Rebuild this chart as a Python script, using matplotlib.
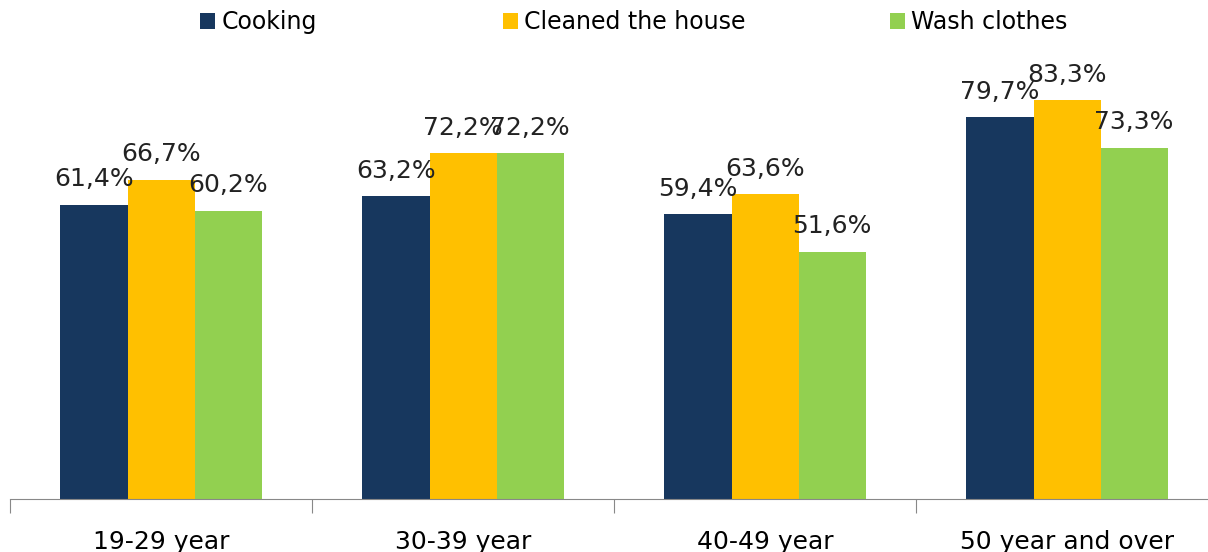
import matplotlib.pyplot as plt
import numpy as np

# --- DATA ---
categories = ['19-29 year', '30-39 year', '40-49 year', '50 year and over']
series_names = ['Cooking', 'Cleaned the house', 'Wash clothes']
cooking = [61.4, 63.2, 59.4, 79.7]
cleaned = [66.7, 72.2, 63.6, 83.3]
wash = [60.2, 72.2, 51.6, 73.3]
colors = ['#17375E', '#FFC000', '#92D050']

plt.rcParams['font.family'] = ['DejaVu Sans']

fig = plt.figure(figsize=(12.08, 5.52), dpi=100)
ax = fig.add_axes([0.0083, 0.096, 1.0, 0.781])

x = np.arange(len(categories))
w = 0.222
handles = []
for i, (vals, name, col) in enumerate(zip([cooking, cleaned, wash], series_names, colors)):
    pos = x + (i - 1) * w
    b = ax.bar(pos, vals, width=w, color=col, label=name)
    handles.append(b)
    for px, v in zip(pos, vals):
        ax.text(px, v + 2.8, f"{v:.1f}%".replace('.', ','), ha='center', va='bottom',
                fontsize=18, color='#222222')

ax.set_xlim(-0.5, 3.5)
ax.set_ylim(0, 90)
ax.set_yticks([])
for s in ['top', 'right', 'left']:
    ax.spines[s].set_visible(False)
ax.spines['bottom'].set_color('#888888')

# ticks at the category boundaries, labels centered
ax.set_xticks(np.arange(-0.5, 4.0, 1.0))
ax.set_xticklabels([])
ax.tick_params(axis='x', length=10, color='#888888')
ax.set_xticks(x, minor=True)
ax.set_xticklabels(categories, minor=True, fontsize=18)
ax.tick_params(axis='x', which='minor', length=0, pad=22)

# legend entries placed one by one (wide, uneven spacing as in the original)
legend_x = [0.1655, 0.4165, 0.7365]
for h, name, lx in zip(handles, series_names, legend_x):
    leg = fig.legend([h], [name], loc='center left', bbox_to_anchor=(lx, 1 - 22 / 552),
                     frameon=False, fontsize=17, handlelength=0.65, handleheight=0.65,
                     handletextpad=0.25, borderpad=0, borderaxespad=0)

fig.savefig('out.png', dpi=100)
